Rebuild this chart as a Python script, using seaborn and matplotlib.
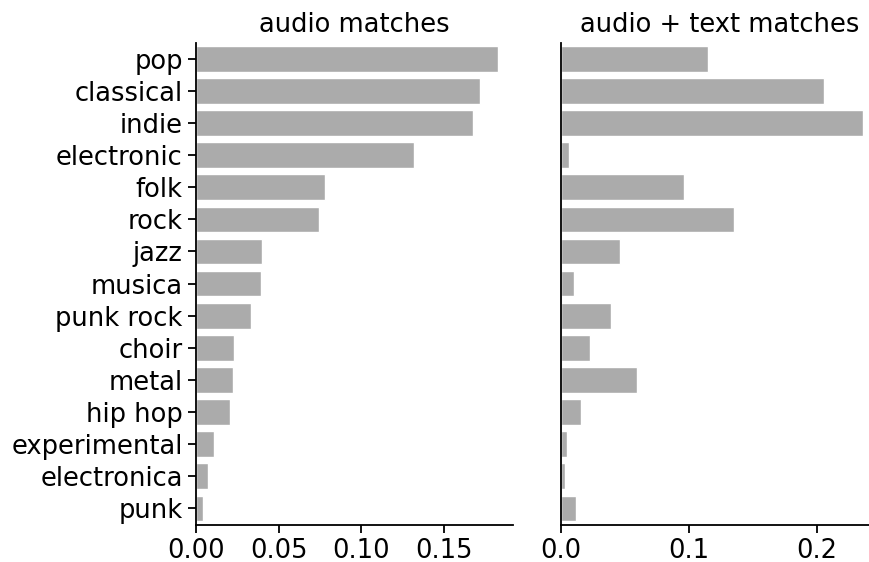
import matplotlib
matplotlib.use("Agg")
import matplotlib.pyplot as plt
import seaborn as sns
import pandas as pd

genres = ["pop", "classical", "indie", "electronic", "folk", "rock", "jazz", "musica",
          "punk rock", "choir", "metal", "hip hop", "experimental", "electronica", "punk"]
audio_matches = [0.1826, 0.1717, 0.1675, 0.1318, 0.0780, 0.0744, 0.0399, 0.0393,
                 0.0333, 0.0230, 0.0224, 0.0206, 0.0109, 0.0073, 0.0042]
audio_text_matches = [0.1148, 0.2055, 0.2359, 0.0063, 0.0961, 0.1352, 0.0461, 0.0102,
                      0.0391, 0.0227, 0.0594, 0.0156, 0.0047, 0.0031, 0.0117]
titles = ["audio matches", "audio + text matches"]

sns.set_style("ticks")
plt.rcParams["font.family"] = ["DejaVu Sans"]
plt.rcParams["text.color"] = "black"
plt.rcParams["axes.labelcolor"] = "black"
plt.rcParams["xtick.color"] = "black"
plt.rcParams["ytick.color"] = "black"

df1 = pd.DataFrame({"genre": genres, "value": audio_matches})
df2 = pd.DataFrame({"genre": genres, "value": audio_text_matches})

fig = plt.figure(figsize=(8.7, 5.62), dpi=100)
ax1 = fig.add_axes([196 / 870, 1 - 524.5 / 562, 317.3 / 870, (524.5 - 42.7) / 562])
ax2 = fig.add_axes([561 / 870, 1 - 524.5 / 562, 317.3 / 870, (524.5 - 42.7) / 562])

bar_color = "#ababab"
sns.barplot(data=df1, x="value", y="genre", ax=ax1, color=bar_color, saturation=1,
            width=0.8, orient="h")
sns.barplot(data=df2, x="value", y="genre", ax=ax2, color=bar_color, saturation=1,
            width=0.8, orient="h")

for ax, t in zip([ax1, ax2], titles):
    ax.set_title(t, fontsize=18.5, pad=8, color="black")
    ax.set_xlabel("")
    ax.set_ylabel("")
    sns.despine(ax=ax)
    for sp in ["left", "bottom"]:
        ax.spines[sp].set_linewidth(1.3)
        ax.spines[sp].set_color("black")
    ax.tick_params(axis="both", labelsize=18.5, width=1.3, length=6, color="black",
                   labelcolor="black")

ax1.set_xticks([0.0, 0.05, 0.10, 0.15])
ax1.set_xticklabels(["0.00", "0.05", "0.10", "0.15"])
ax2.set_xticks([0.0, 0.1, 0.2])
ax2.set_xticklabels(["0.0", "0.1", "0.2"])
ax2.set_yticks([])
ax2.tick_params(axis="y", length=0)

fig.savefig("out.png", dpi=100)
